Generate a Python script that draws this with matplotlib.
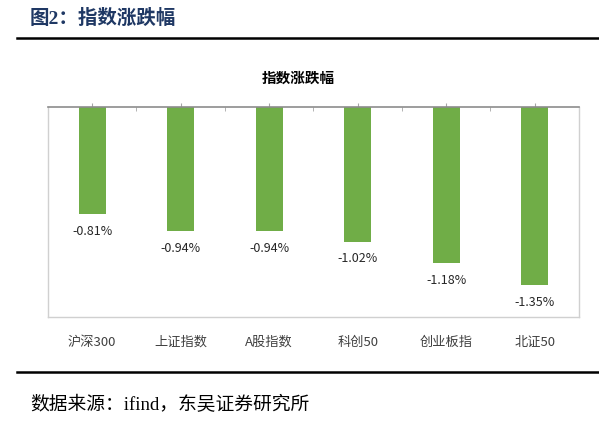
import numpy as np
import matplotlib.pyplot as plt

plt.rcParams['font.family'] = ['Noto Sans CJK SC', 'DejaVu Sans']

# data
categories = ['沪深300', '上证指数', 'A股指数', '科创50', '创业板指', '北证50']
changes = [-0.81, -0.94, -0.94, -1.02, -1.18, -1.35]
labels = ['-0.81%', '-0.94%', '-0.94%', '-1.02%', '-1.18%', '-1.35%']

fig = plt.figure(figsize=(5.99, 4.27), dpi=100)
ax = fig.add_axes([0.0801, 0.2553, 0.8865, 0.4918])

x = np.arange(len(categories))
bars = ax.bar(x, changes, width=0.305, color='#70AD47', zorder=2)

for b, lab in zip(bars, labels):
    ax.annotate(lab, (b.get_x() + b.get_width() / 2, b.get_height()),
                xytext=(0, -7), textcoords='offset points',
                ha='center', va='top', fontsize=9, color='#262626')

ax.set_xlim(-0.5, len(categories) - 0.5)
ax.set_ylim(-1.59, 0)
ax.set_yticks([])

# category labels below the box, ticks on the zero line
ax.set_xticks(x)
ax.set_xticklabels(categories, fontsize=9.5, color='#404040')
ax.set_xticks(np.arange(len(categories) + 1) - 0.5, minor=True)
ax.tick_params(axis='x', which='major', bottom=False, top=True, direction='out',
               length=3, color='#A6A6A6', labelbottom=True, labeltop=False, pad=10)
ax.tick_params(axis='x', which='minor', bottom=False, top=True, direction='in',
               length=3, color='#A6A6A6')

for s in ['left', 'right', 'bottom']:
    ax.spines[s].set_color('#D0D0D0')
    ax.spines[s].set_linewidth(1)
ax.spines['top'].set_color('#8C8C8C')
ax.spines['top'].set_linewidth(1.2)

fig.text(0.4975, 0.8173, '指数涨跌幅', ha='center', va='center',
         fontsize=10.5, fontweight='bold', color='#000000')

# report header and footer
serif_cjk = ['Liberation Serif', 'Noto Sans CJK SC']
fig.text(0.05, 0.958, '图2：指数涨跌幅', ha='left', va='center',
         fontsize=14, fontweight='bold', color='#1F3864', family=serif_cjk)
fig.add_artist(plt.Line2D([0.029, 1.0], [0.9087, 0.9087], color='black', lw=1.8))
fig.add_artist(plt.Line2D([0.029, 1.0], [0.1265, 0.1265], color='black', lw=1.8))
fig.text(0.05, 0.0515, '数据来源：ifind，东吴证券研究所', ha='left', va='center',
         fontsize=13.5, color='black', family=serif_cjk)

fig.savefig('out.png', dpi=100)
